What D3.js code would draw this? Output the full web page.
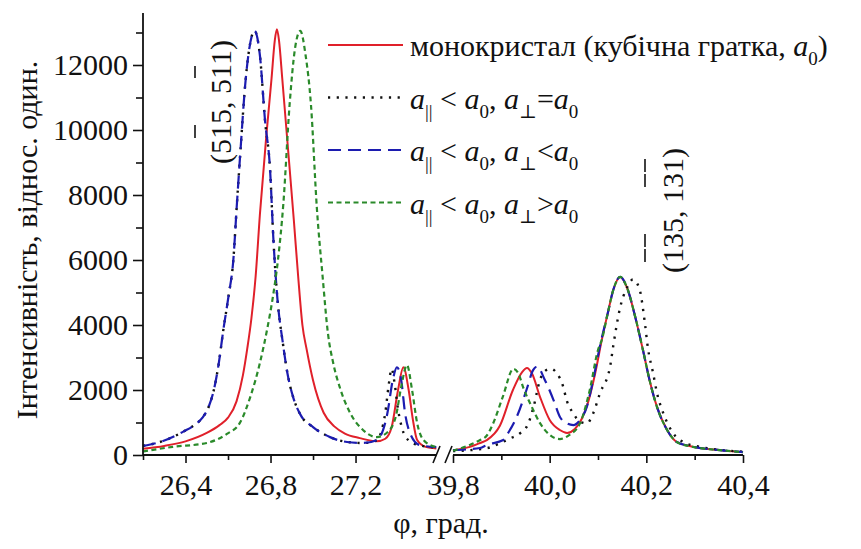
<!DOCTYPE html>
<html>
<head>
<meta charset="utf-8">
<script src="https://cdn.jsdelivr.net/npm/d3@7"></script>
<style>
  body { margin: 0; background: #fff; }
  svg { display: block; }
  svg text { font-family: "Liberation Serif", Tinos, "Times New Roman", Times, "Nimbus Roman", "DejaVu Serif", serif; fill: #111; }
</style>
</head>
<body>
<svg id="chart" width="861" height="549"></svg>
<script>
// Rocking curves: intensity vs angle φ on a broken axis (two windows).
const lowDomain = [26.2, 27.58];
const highDomain = [39.8, 40.4];
const yDomain = [0, 13600];

const lowMajorTicks = [26.4, 26.8, 27.2];
const lowMinorTicks = [26.2, 26.6, 27.0, 27.4];
const highMajorTicks = [39.8, 40.0, 40.2, 40.4];
const highMinorTicks = [39.9, 40.1, 40.3];
const yMajorTicks = [0, 2000, 4000, 6000, 8000, 10000, 12000];
const yMinorTicks = [1000, 3000, 5000, 7000, 9000, 11000, 13000];

// monocrystal (cubic lattice, a0)
const redLow = [[26.20,190],[26.30,280],[26.40,420],[26.50,680],[26.56,920],[26.60,1150],[26.64,1650],[26.67,2450],[26.69,3250],[26.71,4200],[26.73,5500],[26.75,7400],[26.78,9800],[26.805,11600],[26.82,12750],[26.83,13100],[26.84,12750],[26.855,11600],[26.88,9600],[26.91,7200],[26.93,5500],[26.95,4000],[26.97,3250],[27.00,2300],[27.05,1300],[27.10,880],[27.15,660],[27.22,520],[27.30,420],[27.34,500],[27.37,860],[27.40,2000],[27.425,2700],[27.45,2000],[27.47,1080],[27.49,460],[27.53,250],[27.58,200]];
const redHigh = [[39.80,150],[39.835,250],[39.856,370],[39.87,460],[39.897,900],[39.924,2000],[39.943,2550],[39.953,2680],[39.963,2520],[39.98,1790],[40.0,1080],[40.021,770],[40.036,680],[40.052,800],[40.066,1100],[40.08,1650],[40.094,2500],[40.108,3550],[40.12,4350],[40.132,5100],[40.146,5480],[40.16,5150],[40.177,4250],[40.193,3230],[40.208,2220],[40.222,1480],[40.243,770],[40.263,400],[40.297,250],[40.352,150],[40.40,90]];

// a‖ < a0, a⊥ = a0
const blackLow = [[26.20,280],[26.28,400],[26.39,720],[26.45,960],[26.48,1150],[26.51,1500],[26.535,2050],[26.556,2800],[26.578,3850],[26.602,4870],[26.625,6000],[26.641,7640],[26.66,9500],[26.68,11330],[26.70,12500],[26.725,13050],[26.75,12300],[26.774,10300],[26.798,8770],[26.813,6700],[26.83,5000],[26.859,3400],[26.88,2500],[26.906,1790],[26.94,1250],[27.00,860],[27.08,550],[27.16,400],[27.235,370],[27.30,450],[27.32,700],[27.34,1300],[27.355,2100],[27.37,2650],[27.385,2150],[27.40,1400],[27.42,800],[27.45,450],[27.50,300],[27.58,230]];
const blackHigh = [[39.80,120],[39.87,210],[39.897,360],[39.918,510],[39.939,670],[39.956,975],[39.967,1500],[39.98,2310],[39.994,2620],[40.003,2650],[40.015,2510],[40.028,2100],[40.035,1690],[40.049,1280],[40.063,1020],[40.077,975],[40.09,1280],[40.104,1900],[40.125,2720],[40.132,3400],[40.146,4550],[40.16,5150],[40.172,5400],[40.185,5150],[40.197,4060],[40.203,3320],[40.214,2520],[40.222,1910],[40.235,1290],[40.255,680],[40.276,400],[40.311,250],[40.352,160],[40.40,100]];

// a‖ < a0, a⊥ < a0
const blueLow = [[26.20,280],[26.28,400],[26.39,720],[26.45,960],[26.48,1150],[26.51,1500],[26.535,2050],[26.556,2800],[26.578,3850],[26.602,4870],[26.625,6000],[26.641,7640],[26.66,9500],[26.68,11330],[26.70,12500],[26.725,13050],[26.75,12300],[26.774,10300],[26.798,8770],[26.813,6700],[26.83,5000],[26.859,3400],[26.88,2500],[26.906,1790],[26.94,1250],[27.00,860],[27.08,550],[27.16,400],[27.235,370],[27.30,460],[27.35,1290],[27.375,2300],[27.395,2700],[27.415,2300],[27.433,1290],[27.456,680],[27.50,310],[27.58,240]];
const blueHigh = [[39.80,150],[39.856,215],[39.87,310],[39.904,460],[39.915,700],[39.932,1180],[39.952,2000],[39.966,2620],[39.974,2720],[39.99,2310],[40.008,1690],[40.021,1180],[40.035,975],[40.049,920],[40.063,1080],[40.077,1490],[40.09,2310],[40.104,3350],[40.12,4350],[40.132,5100],[40.146,5480],[40.16,5150],[40.177,4250],[40.193,3230],[40.208,2220],[40.222,1480],[40.243,770],[40.263,400],[40.297,250],[40.352,150],[40.40,90]];

// a‖ < a0, a⊥ > a0
const greenLow = [[26.20,110],[26.34,250],[26.50,370],[26.595,650],[26.655,980],[26.705,1790],[26.75,2830],[26.785,3900],[26.812,4900],[26.835,6000],[26.86,7700],[26.89,10800],[26.915,12500],[26.94,13050],[26.965,12300],[26.99,10800],[27.018,7600],[27.045,5500],[27.07,3750],[27.095,2830],[27.13,2000],[27.175,1290],[27.235,770],[27.30,550],[27.35,700],[27.39,1200],[27.415,2100],[27.442,2770],[27.466,2000],[27.49,980],[27.52,460],[27.58,240]];
const greenHigh = [[39.80,130],[39.835,310],[39.856,460],[39.87,600],[39.883,970],[39.903,1790],[39.925,2650],[39.935,2520],[39.945,2090],[39.963,1480],[39.98,980],[40.0,620],[40.021,490],[40.041,620],[40.063,980],[40.083,2000],[40.10,3230],[40.108,3550],[40.12,4350],[40.132,5100],[40.146,5480],[40.16,5150],[40.177,4250],[40.193,3230],[40.208,2220],[40.222,1480],[40.243,770],[40.263,400],[40.297,250],[40.352,150],[40.40,90]];

const series = [
  { low: redLow,   high: redHigh,   color: "#e0202a", dash: null,      width: 2.0 },
  { low: blackLow, high: blackHigh, color: "#111111", dash: "2.2,6.5", width: 2.4 },
  { low: blueLow,  high: blueHigh,  color: "#1c1cb0", dash: "13,7",    width: 2.2 },
  { low: greenLow, high: greenHigh, color: "#2a8a2a", dash: "5,3.5",   width: 2.2 }
];

const svg = d3.select("#chart");
const xLow = d3.scaleLinear().domain(lowDomain).range([143, 436.3]);
const xHigh = d3.scaleLinear().domain(highDomain).range([453, 743]);
const y = d3.scaleLinear().domain(yDomain).range([455, 13]);
const comma = d => d3.format(".1f")(d).replace(".", ",");

// curves
const plot = svg.append("g");
series.forEach(s => {
  [[s.low, xLow], [s.high, xHigh]].forEach(([pts, xs]) => {
    const line = d3.line().x(d => xs(d[0])).y(d => y(d[1])).curve(d3.curveMonotoneX);
    plot.append("path")
      .attr("d", line(pts))
      .attr("fill", "none")
      .attr("stroke", s.color)
      .attr("stroke-width", s.width)
      .attr("stroke-dasharray", s.dash)
      .attr("stroke-linejoin", "round");
  });
});

// x axes (two pieces)
function xAxisPiece(scale, major, minor) {
  const g = svg.append("g").attr("transform", "translate(0,455)");
  g.append("g").call(d3.axisBottom(scale).tickValues(minor).tickSize(5).tickFormat(""))
    .call(a => a.select(".domain").remove());
  const m = g.append("g").call(d3.axisBottom(scale).tickValues(major).tickSize(8).tickPadding(11).tickFormat(comma));
  m.attr("font-family", null);
  m.select(".domain").remove();
  m.selectAll("text").attr("font-size", 30).attr("fill", "#111");
  g.selectAll(".tick line").attr("stroke", "#111").attr("stroke-width", 1.6);
  g.append("line").attr("x1", scale.range()[0]).attr("x2", scale.range()[1])
    .attr("stroke", "#111").attr("stroke-width", 1.8);
}
xAxisPiece(xLow, lowMajorTicks, lowMinorTicks);
xAxisPiece(xHigh, highMajorTicks, highMinorTicks);

// axis break marks
const brk = svg.append("g").attr("stroke", "#111").attr("stroke-width", 1.6);
brk.append("line").attr("x1", 433).attr("y1", 463).attr("x2", 440).attr("y2", 446);
brk.append("line").attr("x1", 445).attr("y1", 463).attr("x2", 452).attr("y2", 446);

// y axis
const gy = svg.append("g").attr("transform", "translate(143,0)");
gy.append("g").call(d3.axisLeft(y).tickValues(yMinorTicks).tickSize(7).tickFormat(""))
  .call(a => a.select(".domain").remove());
const gym = gy.append("g").call(d3.axisLeft(y).tickValues(yMajorTicks).tickSize(10).tickPadding(5).tickFormat(d3.format("d")));
gym.attr("font-family", null);
gym.select(".domain").remove();
gym.selectAll("text").attr("font-size", 30).attr("fill", "#111");
gy.selectAll(".tick line").attr("stroke", "#111").attr("stroke-width", 1.6);
gy.append("line").attr("y1", y.range()[1]).attr("y2", y.range()[0]).attr("stroke", "#111").attr("stroke-width", 1.8);

// axis titles
svg.append("text").attr("x", 441).attr("y", 533).attr("text-anchor", "middle")
  .attr("font-size", 30).text("φ, град.");
svg.append("text").attr("transform", "translate(37,240) rotate(-90)").attr("text-anchor", "middle")
  .attr("font-size", 30).text("Інтенсивність, віднос. один.");

// legend
const legendLabels = [
  [["монокристал (кубічна гратка, ", ""], ["a", "i"], ["0", "s"], [")", ""]],
  [["a", "i"], ["||", "s"], [" < ", ""], ["a", "i"], ["0", "s"], [", ", ""], ["a", "i"], ["⊥", "s"], ["=", ""], ["a", "i"], ["0", "s"]],
  [["a", "i"], ["||", "s"], [" < ", ""], ["a", "i"], ["0", "s"], [", ", ""], ["a", "i"], ["⊥", "s"], ["<", ""], ["a", "i"], ["0", "s"]],
  [["a", "i"], ["||", "s"], [" < ", ""], ["a", "i"], ["0", "s"], [", ", ""], ["a", "i"], ["⊥", "s"], [">", ""], ["a", "i"], ["0", "s"]]
];
const legend = svg.append("g");
series.forEach((s, i) => {
  const ly = 45 + i * 52.5;
  legend.append("line").attr("x1", 328).attr("x2", 403).attr("y1", ly).attr("y2", ly)
    .attr("stroke", s.color).attr("stroke-width", s.width).attr("stroke-dasharray", s.dash);
  const t = legend.append("text").attr("x", 410).attr("y", ly + 11).attr("font-size", 30);
  let sub = false;
  legendLabels[i].forEach(([str, kind]) => {
    const sp = t.append("tspan").text(str);
    if (kind === "i") sp.attr("font-style", "italic");
    if (kind === "s") { sp.attr("font-size", 19).attr("dy", sub ? 0 : 9); sub = true; }
    else if (sub) { sp.attr("dy", -9); sub = false; }
  });
});

// Miller-index annotations with overbars drawn a little above the digits
function millerLabel(x, yStart, str, barred, barOffset) {
  const g = svg.append("g").attr("transform", `translate(${x},${yStart}) rotate(-90)`);
  const t = g.append("text").attr("x", 0).attr("y", 0).attr("font-size", 30).text(str);
  const node = t.node();
  barred.forEach(i => {
    const x0 = node.getStartPositionOfChar(i).x;
    const w = node.getExtentOfChar(i).width;
    g.append("line").attr("x1", x0 + 1).attr("x2", x0 + w - 1).attr("y1", -barOffset).attr("y2", -barOffset)
      .attr("stroke", "#111").attr("stroke-width", 1.6);
  });
}
millerLabel(231, 164, "(515, 511)", [2, 7], 36);
millerLabel(683, 273, "(135, 131)", [1, 2, 7, 8], 38);
</script>
</body>
</html>
